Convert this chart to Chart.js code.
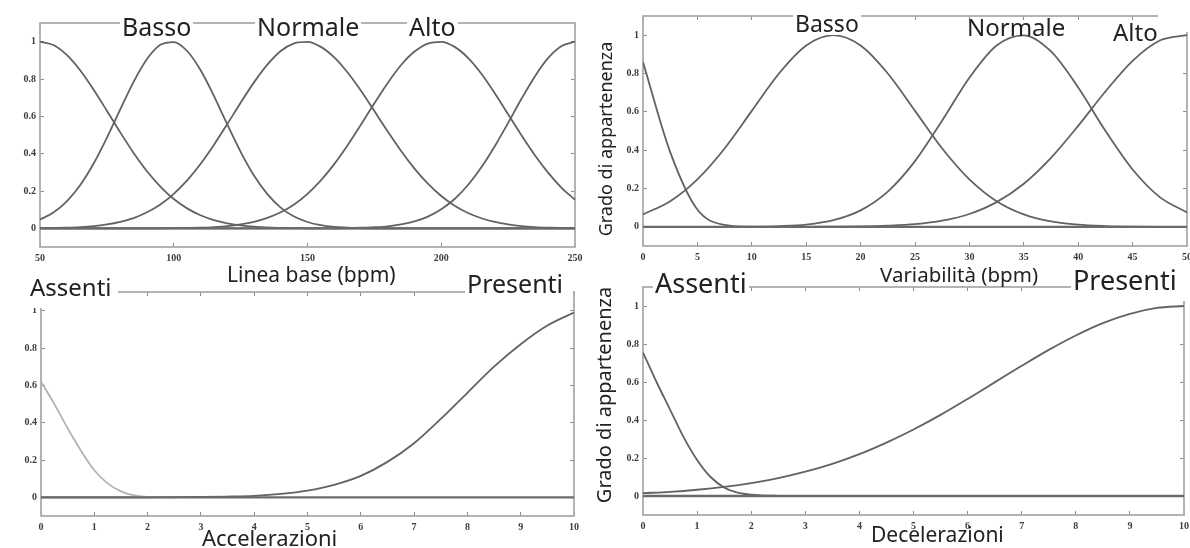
<!DOCTYPE html>
<html>
<head>
<meta charset="utf-8">
<script src="https://cdn.jsdelivr.net/npm/chart.js@4.4.1/dist/chart.umd.min.js"></script>
<style>
  html, body { margin: 0; padding: 0; background: #fff; }
  body { width: 1190px; height: 548px; overflow: hidden; position: relative; font-family: "Noto Sans", sans-serif; color: #222; }
  canvas { position: absolute; }
  .lbl { position: absolute; line-height: 1; white-space: nowrap; background: #fff; padding: 0 2px; }
  .ttl { position: absolute; line-height: 1; white-space: nowrap; }
  .rot { position: absolute; line-height: 1; white-space: nowrap; transform: translate(-50%, -50%) rotate(-90deg); }
  .mask { position: absolute; background: #fff; }
</style>
</head>
<body>
<canvas id="base" width="595" height="268" style="left:0;top:0"></canvas>
<canvas id="var" width="600" height="268" style="left:600px;top:0"></canvas>
<canvas id="acc" width="595" height="278" style="left:0;top:270px"></canvas>
<canvas id="dec" width="600" height="278" style="left:600px;top:270px"></canvas>

<div class="lbl" style="left:120px;top:14px;font-size:25px">Basso</div>
<div class="lbl" style="left:255px;top:14px;font-size:25px">Normale</div>
<div class="lbl" style="left:407px;top:14px;font-size:25px">Alto</div>
<div class="ttl" style="left:227px;top:264px;font-size:21px">Linea base (bpm)</div>

<div class="lbl" style="left:793px;top:12px;font-size:23px">Basso</div>
<div class="ttl" style="left:967px;top:15px;font-size:24px">Normale</div>
<div class="mask" style="left:1158px;top:8px;width:32px;height:24px"></div>
<div class="ttl" style="left:1113px;top:20px;font-size:24px">Alto</div>
<div class="ttl" style="left:880px;top:264px;font-size:20.5px">Variabilità (bpm)</div>
<div class="rot" style="left:605px;top:139px;font-size:18px">Grado di appartenenza</div>

<div class="lbl" style="left:28px;top:275px;font-size:24px;padding:0 6px 9px 2px">Assenti</div>
<div class="lbl" style="left:465px;top:271px;font-size:25px;padding:0 10px 0 2px">Presenti</div>
<div class="ttl" style="left:202px;top:526px;font-size:22px">Accelerazioni</div>

<div class="lbl" style="left:653px;top:269px;font-size:27px;padding:0 2px 8px 2px">Assenti</div>
<div class="lbl" style="left:1071px;top:266px;font-size:27px;padding:0 12px 8px 2px">Presenti</div>
<div class="ttl" style="left:871px;top:524px;font-size:21px">Decelerazioni</div>
<div class="rot" style="left:604px;top:395px;font-size:20px">Grado di appartenenza</div>

<script>
// membership degree ticks, shared by all panels
const gradoTicks = [0, 0.2, 0.4, 0.6, 0.8, 1];

// Linea base (bpm)
const baseX = [50, 55, 60, 65, 70, 75, 80, 85, 90, 95, 100, 105, 110, 115, 120, 125, 130, 135, 140, 145, 150,
  155, 160, 165, 170, 175, 180, 185, 190, 195, 200, 205, 210, 215, 220, 225, 230, 235, 240, 245, 250];
const baseTicks = [50, 100, 150, 200, 250];
const baseMoltoBasso = [1, 0.982, 0.929, 0.847, 0.744, 0.63, 0.514, 0.404, 0.306, 0.224, 0.157, 0.107, 0.07, 0.044, 0.027, 0.016, 0.009, 0.005, 0.002, 0.001, 0,
  0, 0, 0, 0, 0, 0, 0, 0, 0, 0, 0, 0, 0, 0, 0, 0, 0, 0, 0, 0];
const baseBasso = [0.047, 0.085, 0.145, 0.231, 0.346, 0.485, 0.637, 0.785, 0.907, 0.983, 0.998, 0.95, 0.848, 0.71, 0.557, 0.41, 0.283, 0.183, 0.111, 0.063, 0.034,
  0.017, 0.008, 0.004, 0.001, 0, 0, 0, 0, 0, 0, 0, 0, 0, 0, 0, 0, 0, 0, 0, 0];
const baseNormale = [0.001, 0.002, 0.004, 0.007, 0.012, 0.021, 0.035, 0.055, 0.086, 0.128, 0.185, 0.257, 0.345, 0.447, 0.558, 0.673, 0.782, 0.877, 0.95, 0.991, 0.999,
  0.972, 0.916, 0.835, 0.737, 0.628, 0.519, 0.414, 0.32, 0.239, 0.173, 0.121, 0.082, 0.054, 0.034, 0.021, 0.012, 0.007, 0.004, 0.002, 0.001];
const baseAlto = [0, 0, 0, 0, 0, 0, 0, 0, 0, 0, 0.001, 0.002, 0.004, 0.007, 0.012, 0.021, 0.035, 0.056, 0.086, 0.128, 0.185,
  0.257, 0.344, 0.445, 0.556, 0.67, 0.779, 0.875, 0.947, 0.99, 0.999, 0.972, 0.913, 0.828, 0.724, 0.611, 0.498, 0.391, 0.297, 0.217, 0.153];
const baseMoltoAlto = [0, 0, 0, 0, 0, 0, 0, 0, 0, 0, 0, 0, 0, 0, 0, 0, 0, 0, 0, 0, 0,
  0, 0, 0.001, 0.003, 0.006, 0.011, 0.021, 0.037, 0.063, 0.102, 0.157, 0.232, 0.327, 0.44, 0.565, 0.694, 0.814, 0.913, 0.977, 1];

// Variabilità (bpm)
const varX = [0, 2.5, 5, 7.5, 10, 12.5, 15, 17.5, 20, 22.5, 25, 27.5, 30, 32.5, 35, 37.5, 40, 42.5, 45, 47.5, 50];
const varTicks = [0, 5, 10, 15, 20, 25, 30, 35, 40, 45, 50];
const varAssente = [0.86, 0.39, 0.09, 0.01, 0, 0, 0, 0, 0, 0, 0, 0, 0, 0, 0, 0, 0, 0, 0, 0, 0];
const varBasso = [0.065, 0.134, 0.248, 0.409, 0.605, 0.8, 0.946, 1, 0.946, 0.8, 0.605, 0.409, 0.248, 0.134, 0.065, 0.028, 0.011, 0.004, 0.001, 0, 0];
const varNormale = [0, 0, 0, 0, 0.001, 0.004, 0.012, 0.035, 0.086, 0.184, 0.343, 0.555, 0.778, 0.946, 0.999, 0.915, 0.727, 0.501, 0.299, 0.155, 0.075];
const varAlto = [0, 0, 0, 0, 0, 0, 0, 0.001, 0.002, 0.006, 0.014, 0.032, 0.067, 0.129, 0.225, 0.36, 0.527, 0.706, 0.866, 0.972, 1];

// Accelerazioni / Decelerazioni (0..10)
const countX = [0, 0.5, 1, 1.5, 2, 2.5, 3, 3.5, 4, 4.5, 5, 5.5, 6, 6.5, 7, 7.5, 8, 8.5, 9, 9.5, 10];
const countTicks = [0, 1, 2, 3, 4, 5, 6, 7, 8, 9, 10];
const accAssentiX = [0, 0.25, 0.5, 0.75, 1, 1.25, 1.5, 1.75, 2, 2.5];
const accAssenti = [0.62, 0.5, 0.37, 0.25, 0.145, 0.075, 0.032, 0.01, 0.002, 0];
const accPresenti = [0, 0, 0, 0, 0, 0.001, 0.002, 0.004, 0.008, 0.018, 0.036, 0.067, 0.115, 0.19, 0.29, 0.42, 0.56, 0.7, 0.82, 0.92, 0.99];
const decAssentiX = [0, 0.25, 0.5, 0.75, 1, 1.25, 1.5, 1.75, 2, 2.5, 3];
const decAssenti = [0.755, 0.6, 0.455, 0.31, 0.19, 0.1, 0.045, 0.018, 0.007, 0.001, 0];
const decPresenti = [0.015, 0.022, 0.033, 0.048, 0.068, 0.094, 0.128, 0.169, 0.22, 0.281, 0.35, 0.427, 0.511, 0.598, 0.685, 0.769, 0.845, 0.91, 0.959, 0.99, 1];

const lineColor = "#626262";
const boxColor = "#acacac";
const tickFont = { family: "Liberation Serif", size: 10, weight: "bold" };

// frame round the plot area (matlab "box on")
const plotBox = {
  id: "plotBox",
  beforeDatasetsDraw(chart) {
    const { ctx, chartArea } = chart;
    ctx.save();
    ctx.strokeStyle = boxColor;
    ctx.lineWidth = 1.8;
    ctx.strokeRect(chartArea.left, chartArea.top, chartArea.right - chartArea.left, chartArea.bottom - chartArea.top);
    ctx.restore();
  },
};

function points(xs, ys) {
  return xs.map((x, i) => ({ x: x, y: ys[i] }));
}

function curve(label, xs, ys, color) {
  return {
    label: label,
    data: points(xs, ys),
    borderColor: color || lineColor,
    borderWidth: 1.8,
    pointRadius: 0,
    fill: false,
    cubicInterpolationMode: "monotone",
  };
}

function fixSize(size, horizontal) {
  return scale => {
    if (horizontal) scale.height = size;
    else scale.width = size;
    scale.paddingLeft = scale.paddingRight = scale.paddingTop = scale.paddingBottom = 0;
  };
}

function axis(position, min, max, ticks, size, labels, pad) {
  const horizontal = position === "top" || position === "bottom";
  return {
    type: "linear",
    position: position,
    min: min,
    max: max,
    afterBuildTicks: scale => { scale.ticks = ticks.map(v => ({ value: v })); },
    afterFit: fixSize(size, horizontal),
    grid: { display: true, drawOnChartArea: false, drawTicks: true, tickLength: -4, tickColor: "#8c8c8c", tickWidth: 1 },
    border: { display: false },
    ticks: {
      display: labels,
      font: tickFont,
      color: "#3c3c3c",
      padding: pad,
      autoSkip: false,
      maxRotation: 0,
      callback: v => String(v),
    },
  };
}

// band = [left, top, right, bottom] thickness of the axis strips round the plot box
function makeChart(id, xMin, xMax, xTicks, band, curves) {
  const datasets = [{
    label: "zero",
    data: [{ x: xMin, y: 0 }, { x: xMax, y: 0 }],
    borderColor: "#6a6a6a",
    borderWidth: 2.4,
    pointRadius: 0,
    fill: false,
  }].concat(curves);
  return new Chart(document.getElementById(id), {
    type: "line",
    data: { datasets: datasets },
    plugins: [plotBox],
    options: {
      responsive: false,
      animation: false,
      events: [],
      layout: { padding: 0 },
      plugins: { legend: { display: false }, tooltip: { enabled: false } },
      scales: {
        x: axis("bottom", xMin, xMax, xTicks, band[3], true, 9),
        x2: axis("top", xMin, xMax, xTicks, band[1], false, 0),
        y: axis("left", -0.1, 1.1, gradoTicks, band[0], true, 8),
        y2: axis("right", -0.1, 1.1, gradoTicks, band[2], false, 0),
      },
    },
  });
}

makeChart("base", 50, 250, baseTicks, [40, 23, 20, 21], [
  curve("Molto basso", baseX, baseMoltoBasso),
  curve("Basso", baseX, baseBasso),
  curve("Normale", baseX, baseNormale),
  curve("Alto", baseX, baseAlto),
  curve("Molto alto", baseX, baseMoltoAlto),
]);

makeChart("var", 0, 50, varTicks, [43, 16, 13, 22], [
  curve("Assente", varX, varAssente),
  curve("Basso", varX, varBasso),
  curve("Normale", varX, varNormale),
  curve("Alto", varX, varAlto),
]);

makeChart("acc", 0, 10, countTicks, [41, 22, 21, 32], [
  curve("Assenti", accAssentiX, accAssenti, "#b4b4b4"),
  curve("Presenti", countX, accPresenti),
]);

makeChart("dec", 0, 10, countTicks, [43, 17, 16, 33], [
  curve("Assenti", decAssentiX, decAssenti),
  curve("Presenti", countX, decPresenti),
]);
</script>
</body>
</html>
